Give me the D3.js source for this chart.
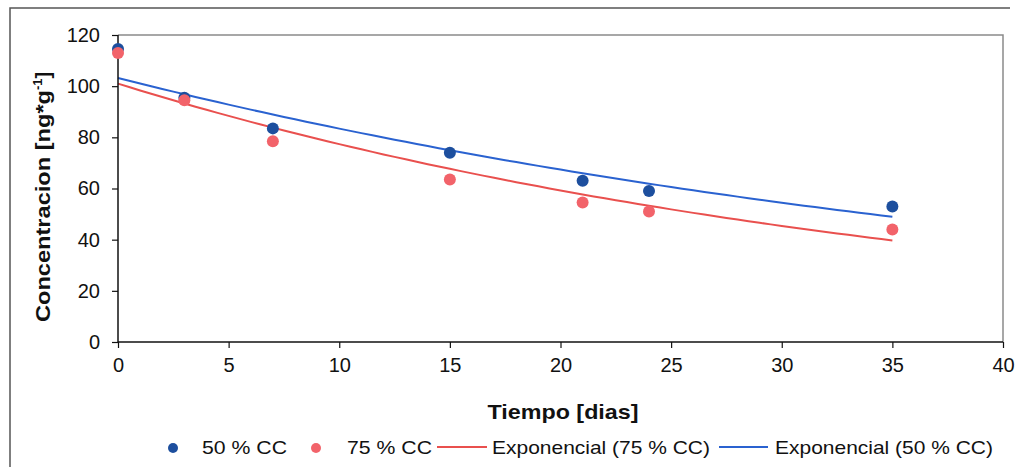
<!DOCTYPE html>
<html>
<head>
<meta charset="utf-8">
<script src="https://cdn.jsdelivr.net/npm/d3@7"></script>
<style>
  body { margin: 0; background: #fff; }
  svg text { font-family: "Liberation Sans", Arial, sans-serif; }
</style>
</head>
<body>
<div id="canvas"></div>
<script>
// data
var days = [0, 3, 7, 15, 21, 24, 35]
var cc50 = [114.5, 95.5, 83.5, 74, 63, 59, 53]
var cc75 = [113, 94.5, 78.5, 63.5, 54.5, 51, 44]
var xTicks = [0, 5, 10, 15, 20, 25, 30, 35, 40]
var yTicks = [0, 20, 40, 60, 80, 100, 120]
var seriesNames = ['50 % CC', '75 % CC', 'Exponencial (75 % CC)', 'Exponencial (50 % CC)']

var blue = '#1d4f9e'
var pink = '#f2636a'
var lineRed = '#e9504e'
var lineBlue = '#2a62d0'

var width = 1020, height = 467
var svg = d3.select('#canvas').append('svg')
  .attr('width', width).attr('height', height)

// outer chart frame (only top and left edges are in the picture)
svg.append('path')
  .attr('d', 'M10,467 L10,8 L1010,8')
  .attr('fill', 'none').attr('stroke', '#555').attr('stroke-width', 1.5)

var x = d3.scaleLinear().domain([0, 40]).range([118, 1003])
var y = d3.scaleLinear().domain([0, 120]).range([342, 35])

// plot area border top/right
svg.append('path')
  .attr('d', 'M' + x(0) + ',' + y(120) + ' L' + x(40) + ',' + y(120) + ' L' + x(40) + ',' + y(0))
  .attr('fill', 'none').attr('stroke', '#8a8a8a').attr('stroke-width', 1.5)

// exponential fit (least squares on ln y, like the spreadsheet trendline)
var expFit = function (xs, ys) {
  var n = xs.length
  var ly = ys.map(function (v) { return Math.log(v) })
  var mx = d3.mean(xs), my = d3.mean(ly)
  var sxx = 0, sxy = 0
  for (var i = 0; i < n; i++) {
    sxx += (xs[i] - mx) * (xs[i] - mx)
    sxy += (xs[i] - mx) * (ly[i] - my)
  }
  var b = sxy / sxx
  var a = Math.exp(my - b * mx)
  return function (t) { return a * Math.exp(b * t) }
}

var fit50 = expFit(days, cc50)
var fit75 = expFit(days, cc75)
var tt = d3.range(0, 35.001, 0.5)
var line = d3.line().x(function (d) { return x(d[0]) }).y(function (d) { return y(d[1]) })

svg.append('path')
  .attr('d', line(tt.map(function (t) { return [t, fit75(t)] })))
  .attr('fill', 'none').attr('stroke', lineRed).attr('stroke-width', 2)
svg.append('path')
  .attr('d', line(tt.map(function (t) { return [t, fit50(t)] })))
  .attr('fill', 'none').attr('stroke', lineBlue).attr('stroke-width', 2)

// axes
var xAxis = d3.axisBottom(x).tickValues(xTicks).tickSize(6).tickPadding(10)
var yAxis = d3.axisLeft(y).tickValues(yTicks).tickSize(6).tickPadding(12)

var gx = svg.append('g').attr('transform', 'translate(0,' + y(0) + ')').call(xAxis)
var gy = svg.append('g').attr('transform', 'translate(' + x(0) + ',0)').call(yAxis)
;[gx, gy].forEach(function (g) {
  g.select('.domain').attr('stroke', '#111').attr('stroke-width', 1.5)
  g.selectAll('.tick line').attr('stroke', '#111').attr('stroke-width', 1.2)
  g.selectAll('.tick text')
    .attr('fill', '#111')
    .style('font-family', '"Liberation Sans", Arial, sans-serif')
    .style('font-size', '20px')
})
gx.select('.domain').attr('d', 'M' + x(0) + ',0H' + x(40))
gy.select('.domain').attr('d', 'M0,' + y(0) + 'V' + y(120))

// points
svg.append('g').selectAll('circle')
  .data(days.map(function (d, i) { return [d, cc50[i]] }))
  .enter().append('circle')
  .attr('cx', function (d) { return x(d[0]) })
  .attr('cy', function (d) { return y(d[1]) })
  .attr('r', 6).attr('fill', blue)

svg.append('g').selectAll('circle')
  .data(days.map(function (d, i) { return [d, cc75[i]] }))
  .enter().append('circle')
  .attr('cx', function (d) { return x(d[0]) })
  .attr('cy', function (d) { return y(d[1]) })
  .attr('r', 6).attr('fill', pink)

// axis titles
svg.append('text')
  .attr('x', 563).attr('y', 419)
  .attr('text-anchor', 'middle')
  .attr('font-size', '21px').attr('font-weight', 'bold')
  .attr('textLength', 151).attr('lengthAdjust', 'spacingAndGlyphs')
  .attr('fill', '#111')
  .text('Tiempo [dias]')

var yt = svg.append('text')
  .attr('transform', 'translate(50,322) rotate(-90)')
  .attr('text-anchor', 'start')
  .attr('font-size', '20px').attr('font-weight', 'bold')
  .attr('fill', '#111')
yt.append('tspan').attr('textLength', 232).attr('lengthAdjust', 'spacingAndGlyphs')
  .text('Concentracion [ng*g')
yt.append('tspan').attr('font-size', '13px').attr('dy', -8).text('-1')
yt.append('tspan').attr('dy', 8).text(']')

// legend
var lg = svg.append('g').attr('font-size', '19px').attr('fill', '#111')
var legendY = 454
lg.append('circle').attr('cx', 173).attr('cy', 448).attr('r', 5).attr('fill', blue)
lg.append('text').attr('x', 202).attr('y', legendY).attr('textLength', 85)
  .attr('lengthAdjust', 'spacingAndGlyphs').text(seriesNames[0])
lg.append('circle').attr('cx', 316).attr('cy', 448).attr('r', 5).attr('fill', pink)
lg.append('text').attr('x', 347).attr('y', legendY).attr('textLength', 85)
  .attr('lengthAdjust', 'spacingAndGlyphs').text(seriesNames[1])
lg.append('line').attr('x1', 437).attr('x2', 487).attr('y1', 447).attr('y2', 447)
  .attr('stroke', lineRed).attr('stroke-width', 2)
lg.append('text').attr('x', 492).attr('y', legendY).attr('textLength', 218)
  .attr('lengthAdjust', 'spacingAndGlyphs').text(seriesNames[2])
lg.append('line').attr('x1', 719).attr('x2', 768).attr('y1', 447).attr('y2', 447)
  .attr('stroke', lineBlue).attr('stroke-width', 2)
lg.append('text').attr('x', 775).attr('y', legendY).attr('textLength', 218)
  .attr('lengthAdjust', 'spacingAndGlyphs').text(seriesNames[3])
</script>
</body>
</html>
